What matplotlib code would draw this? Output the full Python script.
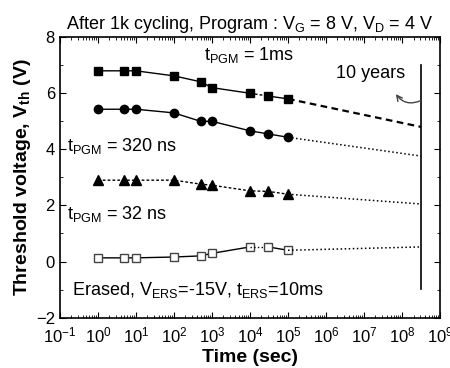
import numpy as np
import matplotlib
matplotlib.use("Agg")
import matplotlib.pyplot as plt
from matplotlib.ticker import LogLocator, MultipleLocator, NullFormatter

plt.rcParams["font.family"] = ["Liberation Sans", "DejaVu Sans"]
plt.rcParams["mathtext.fontset"] = "custom"
plt.rcParams["mathtext.rm"] = "Liberation Sans"
plt.rcParams["mathtext.it"] = "Liberation Sans"
plt.rcParams["mathtext.bf"] = "Liberation Sans:bold"

# measured retention data
time_s = [1, 5, 10, 100, 500, 1000, 1e4, 3e4, 1e5]
vth_1ms = [6.8, 6.8, 6.8, 6.62, 6.41, 6.2, 6.0, 5.9, 5.8]
vth_320ns = [5.43, 5.43, 5.43, 5.3, 5.0, 5.0, 4.66, 4.55, 4.43]
vth_32ns = [2.9, 2.9, 2.9, 2.9, 2.76, 2.72, 2.52, 2.5, 2.4]
vth_erased = [0.13, 0.13, 0.13, 0.16, 0.2, 0.29, 0.52, 0.52, 0.4]

# extrapolated values at 10 years
t_10y = 3.15e8
vth_10y = {"1ms": 4.8, "320ns": 3.76, "32ns": 2.05, "erased": 0.52}

fig = plt.figure(figsize=(4.5, 3.68), dpi=100)
ax = fig.add_axes([0.133, 0.137, 0.845, 0.762])

# 1 ms programmed
ax.plot(time_s[:7], vth_1ms[:7], "k-", lw=1, marker="s", ms=5.5)
ax.plot(time_s[6:8], vth_1ms[6:8], "k--", lw=1, dashes=(2, 1.5))
ax.plot(time_s[7:], vth_1ms[7:], "k-", lw=1, marker="s", ms=5.5)
ax.plot([time_s[-1], t_10y], [vth_1ms[-1], vth_10y["1ms"]], "k--", lw=1.6, dashes=(3, 2))

# 320 ns programmed
ax.plot(time_s, vth_320ns, "k-", lw=1, marker="o", ms=6)
ax.plot([time_s[-1], t_10y], [vth_320ns[-1], vth_10y["320ns"]], "k:", lw=1.1)

# 32 ns programmed
ax.plot(time_s, vth_32ns, "k--", lw=1, dashes=(2, 1.5), marker="^", ms=7)
ax.plot([time_s[-1], t_10y], [vth_32ns[-1], vth_10y["32ns"]], "k:", lw=1.1)

# erased
ax.plot(time_s[:7], vth_erased[:7], "k-", lw=1, marker="s", ms=5.8,
        mfc="white", mec="#444444")
ax.plot(time_s[6:8], vth_erased[6:8], "k:", lw=1)
ax.plot(time_s[7:], vth_erased[7:], "k-", lw=1, marker="s", ms=5.8,
        mfc="white", mec="#444444")
ax.plot([time_s[-1], t_10y], [vth_erased[-1], vth_10y["erased"]], "k:", lw=1.1)

# 10 year line
ax.plot([t_10y, t_10y], [-0.97, 7.0], "k-", lw=1.2)
ax.annotate("", xy=(6.2e7, 6.05), xytext=(t_10y * 1.15, 5.78),
            arrowprops=dict(arrowstyle="->", color="#444444", lw=1,
                            connectionstyle="arc3,rad=-0.45"))
ax.text(1.2e8, 6.72, "10 years", fontsize=13, ha="right", va="center")

ax.text(6.3e2, 7.37, r"t$_{\mathrm{PGM}}$ = 1ms", fontsize=13, ha="left", va="center")
ax.text(0.155, 4.12, r"t$_{\mathrm{PGM}}$ = 320 ns", fontsize=13, ha="left", va="center")
ax.text(0.155, 1.7, r"t$_{\mathrm{PGM}}$ = 32 ns", fontsize=13, ha="left", va="center")
ax.text(0.21, -1.0, r"Erased, V$_{\mathrm{ERS}}$=-15V, t$_{\mathrm{ERS}}$=10ms",
        fontsize=13, ha="left", va="center")

ax.set_xscale("log")
ax.set_xlim(0.1, 1e9)
ax.set_ylim(-2, 8)
ax.xaxis.set_major_locator(LogLocator(base=10, numticks=20))
ax.xaxis.set_minor_locator(LogLocator(base=10, subs=np.arange(2, 10), numticks=20))
ax.xaxis.set_minor_formatter(NullFormatter())
ax.yaxis.set_major_locator(MultipleLocator(2))
ax.yaxis.set_minor_locator(MultipleLocator(1))
ax.tick_params(which="both", direction="in", top=True, right=True, labelsize=12)
ax.tick_params(which="major", length=4)
ax.tick_params(which="minor", length=2)
ax.tick_params(axis="x", pad=6)
for s in ax.spines.values():
    s.set_linewidth(1.2)

ax.set_xlabel("Time (sec)", fontsize=14, fontweight="bold", labelpad=2)
ax.set_ylabel(r"Threshold voltage, V$_{\mathbf{th}}$ (V)", fontsize=14,
              fontweight="bold", labelpad=2)
ax.set_title(r"After 1k cycling, Program : V$_{\mathrm{G}}$ = 8 V, V$_{\mathrm{D}}$ = 4 V",
             fontsize=13, pad=6)

fig.savefig("out.png", dpi=100)
